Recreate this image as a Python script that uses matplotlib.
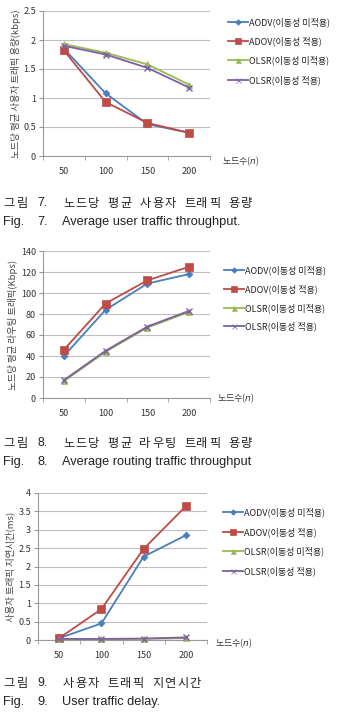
import matplotlib.pyplot as plt
from matplotlib.lines import Line2D

plt.rcParams['font.family'] = ['Noto Sans CJK KR', 'DejaVu Sans']

nodes = ["50", "100", "150", "200"]
series_names = ["AODV(이동성 미적용)", "ADOV(이동성 적용)", "OLSR(이동성 미적용)", "OLSR(이동성 적용)"]

# fig 7: user traffic throughput (kbps)
user_aodv = [1.85, 1.08, 0.55, 0.40]
user_aodv_mob = [1.82, 0.93, 0.57, 0.40]
user_olsr = [1.93, 1.78, 1.58, 1.23]
user_olsr_mob = [1.90, 1.75, 1.52, 1.18]

# fig 8: routing traffic throughput (kbps)
route_aodv = [40, 84, 109, 118]
route_aodv_mob = [46, 90, 112, 125]
route_olsr = [16, 44, 67, 82]
route_olsr_mob = [17, 45, 68, 83]

# fig 9: user traffic delay (ms)
delay_aodv = [0.05, 0.45, 2.27, 2.85]
delay_aodv_mob = [0.05, 0.84, 2.48, 3.64]
delay_olsr = [0.02, 0.02, 0.03, 0.05]
delay_olsr_mob = [0.03, 0.03, 0.04, 0.07]

colors = ['#4A7EBB', '#BE4B48', '#98B954', '#7D60A0']
markers = ['D', 's', '^', 'x']
msizes = [3.5, 5.5, 4.5, 4.5]

fig = plt.figure(figsize=(3.4, 7.14), dpi=100)
W, H = 340.0, 714.0


def make_chart(px_left, px_right, px_top, px_bottom, data, ylim, yticks, ylabel,
               leg_x, leg_ys, xl_pos):
    ax = fig.add_axes([px_left / W, 1 - px_bottom / H, (px_right - px_left) / W,
                       (px_bottom - px_top) / H])
    x = list(range(len(nodes)))
    for vals, c, m, ms in zip(data, colors, markers, msizes):
        ax.plot(x, vals, color=c, marker=m, markersize=ms, linewidth=1.3,
                markeredgewidth=1.0 if m == 'x' else 0.5, clip_on=False, zorder=3)
    ax.set_xlim(-0.5, len(nodes) - 0.5)
    ax.set_ylim(*ylim)
    ax.set_yticks(yticks)
    ax.set_yticklabels([f"{v:g}" for v in yticks], fontsize=6.5, color='#333333')
    ax.set_xticks(x)
    ax.set_xticklabels(nodes, fontsize=6.5, color='#333333')
    ax.set_xticks([i - 0.5 for i in range(len(nodes) + 1)], minor=True)
    ax.tick_params(axis='x', which='major', length=0, pad=8)
    ax.tick_params(axis='x', which='minor', length=3, color='#999999')
    ax.tick_params(axis='y', length=3, color='#999999', pad=2)
    ax.grid(axis='y', color='#BFBFBF', linewidth=0.8)
    ax.set_axisbelow(True)
    for s in ['top', 'right']:
        ax.spines[s].set_visible(False)
    for s in ['left', 'bottom']:
        ax.spines[s].set_color('#999999')
        ax.spines[s].set_linewidth(0.8)
    ax.set_ylabel(ylabel, fontsize=6.8, color='#444444', labelpad=2)
    # legend drawn beside the plot
    for name, c, m, ms, ly in zip(series_names, colors, markers, msizes, leg_ys):
        fig.add_artist(Line2D([leg_x / W, (leg_x + 20) / W], [1 - ly / H, 1 - ly / H],
                              color=c, linewidth=1.3))
        fig.add_artist(Line2D([(leg_x + 10) / W], [1 - ly / H], color=c, marker=m,
                              markersize=ms * 0.8, markeredgewidth=0.5))
        fig.text((leg_x + 21) / W, 1 - ly / H, name, fontsize=6.5, va='center', ha='left',
                 color='#222222')
    fig.text(xl_pos[0] / W, 1 - xl_pos[1] / H, "노드수($n$)", fontsize=6.5, va='center',
             ha='left', color='#333333')
    return ax


make_chart(43, 210, 11, 156, [user_aodv, user_aodv_mob, user_olsr, user_olsr_mob],
           (0, 2.5), [0, 0.5, 1, 1.5, 2, 2.5],
           "노드당 평균 사용자 트래픽 용량(kbps)", 228, [22, 41, 60, 80], (222, 161))
make_chart(43, 210, 251, 398, [route_aodv, route_aodv_mob, route_olsr, route_olsr_mob],
           (0, 140), list(range(0, 141, 20)),
           "노드당 평균 라우팅 트래픽(Kbps)", 224, [270, 289, 308, 326], (217, 398))
make_chart(38, 207, 493, 640, [delay_aodv, delay_aodv_mob, delay_olsr, delay_olsr_mob],
           (0, 4), [0, 0.5, 1, 1.5, 2, 2.5, 3, 3.5, 4],
           "사용자 트래픽 지연시간(ms)", 223, [512, 532, 551, 571], (215, 643))


def spaced_korean(x0, y, text, advance=12.5, gap=7.0, size=8.8):
    # caption hangul set with wide letter spacing
    x = x0
    for ch in text:
        if ch == ' ':
            x += gap
            continue
        fig.text(x / W, 1 - y / H, ch, fontsize=size, va='center', ha='left',
                 color='#222222')
        x += advance


captions = [
    (203, 222, "7.", "노드당 평균 사용자 트래픽 용량", "Average user traffic throughput."),
    (443, 462, "8.", "노드당 평균 라우팅 트래픽 용량", "Average routing traffic throughput"),
    (683, 702, "9.", "사용자 트래픽 지연시간", "User traffic delay."),
]
en_font = ['Liberation Sans', 'DejaVu Sans']
for y1, y2, num, kr, en in captions:
    spaced_korean(3, y1, "그림", advance=14)
    fig.text(37 / W, 1 - y1 / H, num, fontsize=8.8, va='center', ha='left',
             color='#222222', family=en_font)
    spaced_korean(63, y1, kr)
    fig.text(3 / W, 1 - y2 / H, "Fig.", fontsize=9.2, va='center', ha='left',
             color='#222222', family=en_font)
    fig.text(37 / W, 1 - y2 / H, num, fontsize=9.2, va='center', ha='left',
             color='#222222', family=en_font)
    fig.text(62 / W, 1 - y2 / H, en, fontsize=9.2, va='center', ha='left',
             color='#222222', family=en_font)

fig.savefig('out.png', dpi=100)
